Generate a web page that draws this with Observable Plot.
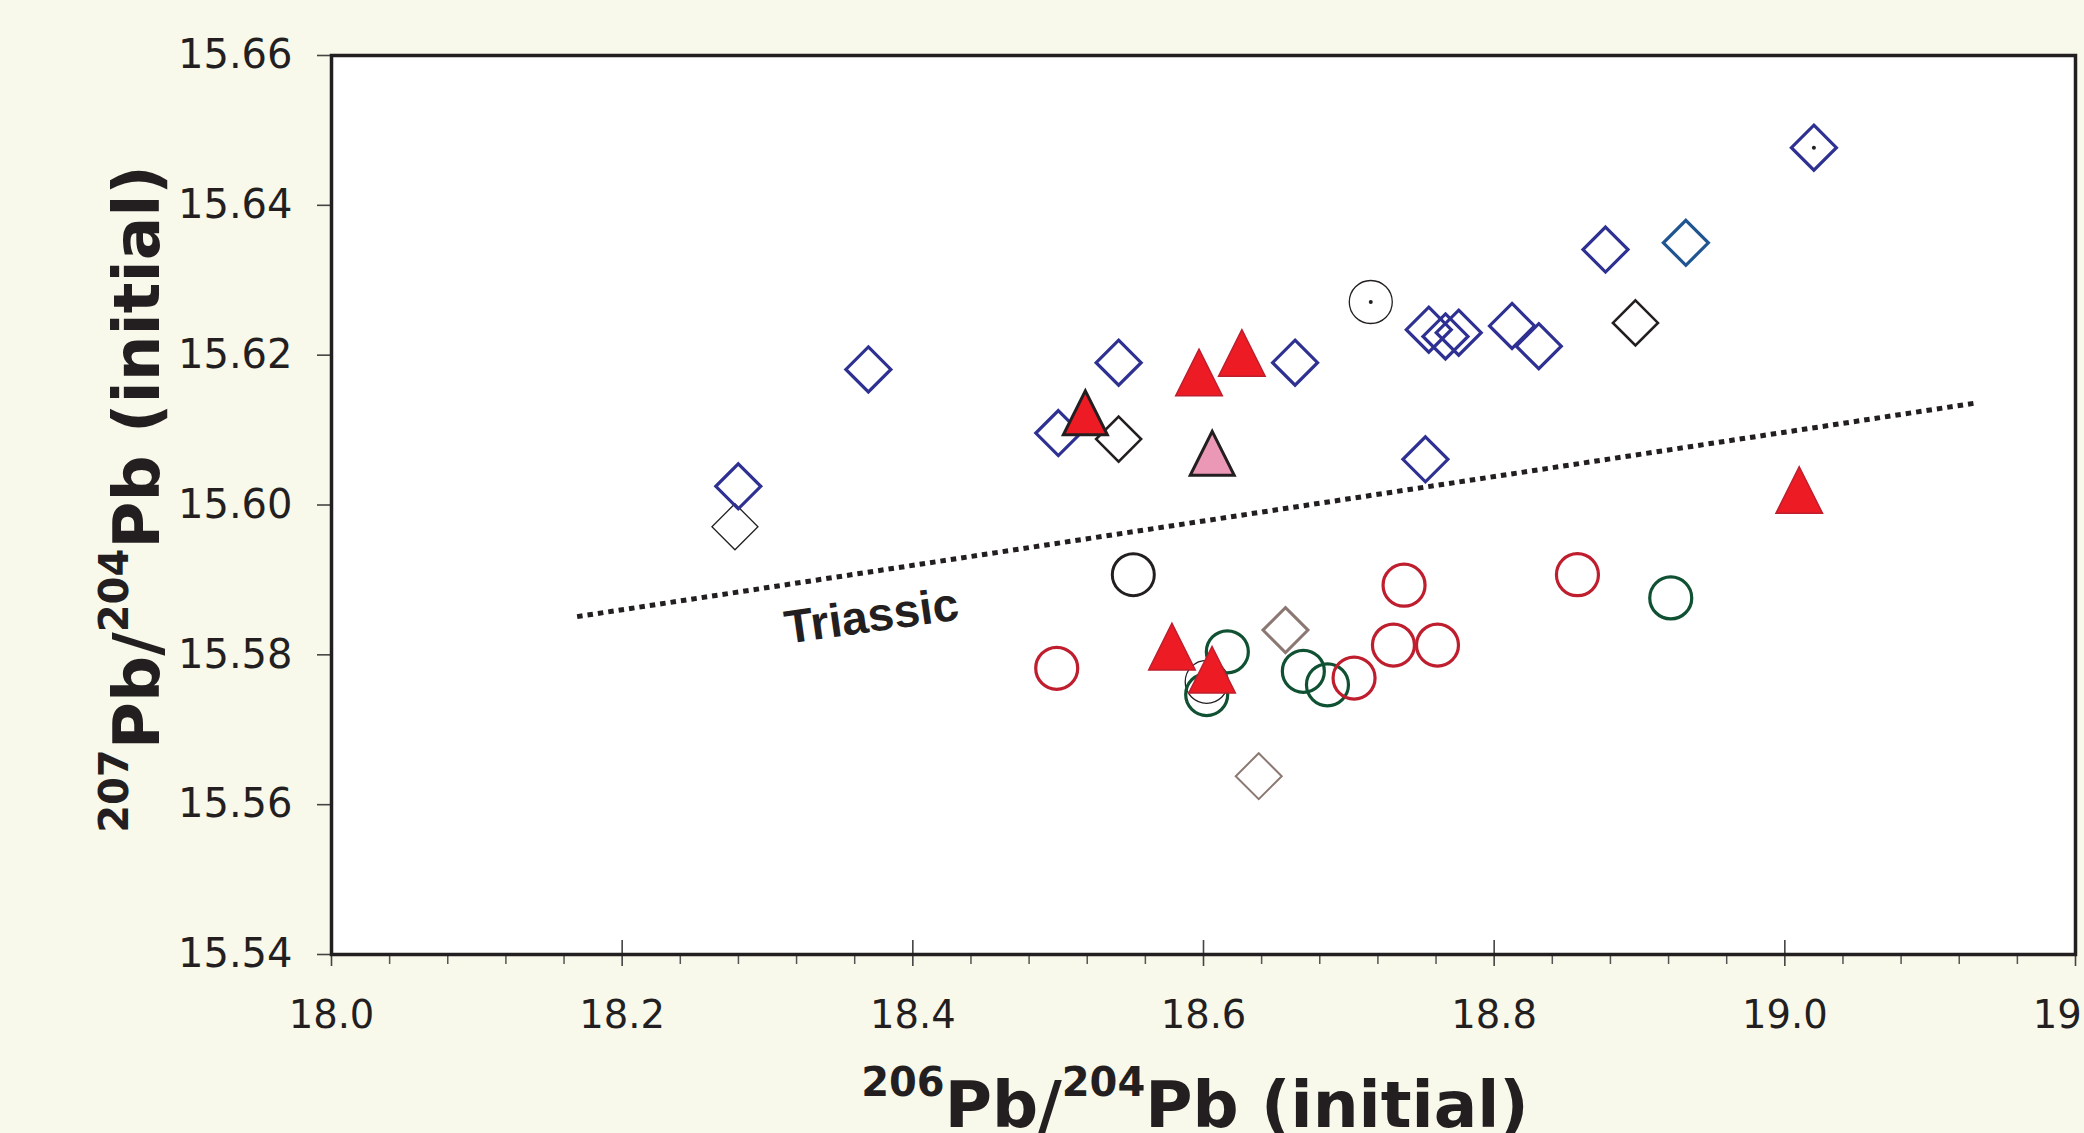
<!DOCTYPE html>
<html>
<head>
<meta charset="utf-8">
<script src="https://cdn.jsdelivr.net/npm/d3@7"></script>
<script src="https://cdn.jsdelivr.net/npm/@observablehq/plot@0.6"></script>
<style>
  html, body { margin: 0; padding: 0; background: #f8f8eb; overflow: hidden; }
  #chart svg { display: block; max-width: none; }
</style>
</head>
<body>
<div id="chart"></div>
<script>
// ---- Data (206Pb/204Pb, 207Pb/204Pb) ----
const blueDiamondX = [18.2799, 18.3694, 18.5001, 18.5416, 18.6630, 18.7527, 18.7550, 18.7665, 18.7756, 18.8123, 18.8307, 18.8766, 19.0200];
const blueDiamondY = [15.6025, 15.6181, 15.6096, 15.6190, 15.6190, 15.6061, 15.6234, 15.6225, 15.6230, 15.6239, 15.6212, 15.6341, 15.6477];
const steelDiamondX = [18.9319];
const steelDiamondY = [15.6350];
const blackDiamondX = [18.5416, 18.8972];
const blackDiamondY = [15.6088, 15.6243];
const thinBlackDiamondX = [18.2776];
const thinBlackDiamondY = [15.5971];
const grayDiamondX = [18.6564];
const grayDiamondY = [15.5833];
const thinGrayDiamondX = [18.6380];
const thinGrayDiamondY = [15.5638];
const redTriangleX = [18.5969, 18.6264, 18.5783, 18.6059, 19.0099];
const redTriangleY = [15.6177, 15.6203, 15.5811, 15.5780, 15.6020];
const outlinedRedTriangleX = [18.5187];
const outlinedRedTriangleY = [15.6123];
const pinkTriangleX = [18.6060];
const pinkTriangleY = [15.6069];
const blackCircleX = [18.5517];
const blackCircleY = [15.5907];
const thinBlackCircleX = [18.7151, 18.6022];
const thinBlackCircleY = [15.6271, 15.5764];
const redCircleX = [18.4990, 18.7380, 18.8573, 18.7307, 18.7610, 18.7036];
const redCircleY = [15.5782, 15.5893, 15.5907, 15.5813, 15.5813, 15.5769];
const greenCircleX = [18.6687, 18.6853, 18.6164, 18.6022, 18.9215];
const greenCircleY = [15.5778, 15.5760, 15.5804, 15.5747, 15.5876];
const centreDotX = [18.7151, 19.0200];
const centreDotY = [15.6271, 15.6477];

// Triassic reference line
const triassicX = [18.169, 19.131];
const triassicY = [15.5851, 15.6136];
const triassicLabel = ["Triassic"];
const triassicLabelX = [18.3716];
const triassicLabelY = [15.5851];

// Axes
const xDomain = [18.0, 19.2];
const yDomain = [15.54, 15.66];
const xMajorTicks = [18.0, 18.2, 18.4, 18.6, 18.8, 19.0, 19.2];
const xMinorTicks = d3.range(0, 31).map(i => +(18 + i * 0.04).toFixed(2)).filter(v => !xMajorTicks.some(m => Math.abs(m - v) < 1e-9));
const yTicks = [15.54, 15.56, 15.58, 15.60, 15.62, 15.64, 15.66];
const xTitleParts = ["206", "Pb/", "204", "Pb (initial)"];
const yTitleParts = ["207", "Pb/", "204", "Pb (initial)"];

// ---- Layout ----
const W = 2084, H = 1133;
const mL = 331, mR = 9, mT = 55, mB = 179;
const innerH = H - mT - mB;
const ink = "#231f20";

const rows = (xs, ys) => xs.map((x, i) => ({x, y: ys[i]}));

const sqDiamond = {draw(ctx, size) { const r = Math.sqrt(size / Math.PI); ctx.moveTo(0, -r); ctx.lineTo(r, 0); ctx.lineTo(0, r); ctx.lineTo(-r, 0); ctx.closePath(); }};
const sqTriangle = {draw(ctx, size) { const r = Math.sqrt(size / Math.PI); ctx.moveTo(0, -r); ctx.lineTo(r, r); ctx.lineTo(-r, r); ctx.closePath(); }};

const chart = Plot.plot({
  width: W, height: H,
  marginLeft: mL, marginRight: mR, marginTop: mT, marginBottom: mB,
  style: {background: "#f8f8eb", fontFamily: "DejaVu Sans", color: ink},
  x: {domain: xDomain, label: null},
  y: {domain: yDomain, label: null},
  marks: [
    Plot.frame({fill: "white", stroke: null}),
    // ticks
    Plot.tickX(xMajorTicks, {x: d => d, insetTop: innerH - 14, insetBottom: -12, stroke: "#444", strokeWidth: 1.6}),
    Plot.tickX(xMinorTicks, {x: d => d, insetTop: innerH, insetBottom: -10, stroke: "#555", strokeWidth: 1.5}),
    Plot.axisX({ticks: xMajorTicks, tickSize: 0, tickPadding: 46, tickFormat: d => d.toFixed(1), fontSize: 38.5, fill: ink, label: null}),
    Plot.axisY({ticks: yTicks, tickSize: 14, tickPadding: 25, tickFormat: d => d.toFixed(2), fontSize: 40, fill: ink, stroke: "#444", strokeWidth: 1.6, label: null}),
    // Triassic line
    Plot.line(rows(triassicX, triassicY), {x: "x", y: "y", stroke: ink, strokeWidth: 5, strokeDasharray: "5.5 5", strokeLinecap: "butt"}),
    Plot.text(triassicLabel, {x: () => triassicLabelX[0], y: () => triassicLabelY[0], text: d => d, rotate: -8, fontSize: 47, fontWeight: "bold", fontFamily: "Liberation Sans", fill: ink}),
    // diamonds
    Plot.dot(rows(thinBlackDiamondX, thinBlackDiamondY), {x: "x", y: "y", symbol: sqDiamond, r: 23, fill: "none", stroke: ink, strokeWidth: 1.3}),
    Plot.dot(rows(thinGrayDiamondX, thinGrayDiamondY), {x: "x", y: "y", symbol: sqDiamond, r: 23, fill: "none", stroke: "#8c7873", strokeWidth: 2}),
    Plot.dot(rows(grayDiamondX, grayDiamondY), {x: "x", y: "y", symbol: sqDiamond, r: 22.5, fill: "none", stroke: "#8c7873", strokeWidth: 3}),
    Plot.dot(rows(blackDiamondX, blackDiamondY), {x: "x", y: "y", symbol: sqDiamond, r: 22.5, fill: "none", stroke: ink, strokeWidth: 2.6}),
    Plot.dot(rows(blueDiamondX, blueDiamondY), {x: "x", y: "y", symbol: sqDiamond, r: 22.5, fill: "none", stroke: "#2e3192", strokeWidth: 3.2}),
    Plot.dot(rows(steelDiamondX, steelDiamondY), {x: "x", y: "y", symbol: sqDiamond, r: 22.5, fill: "none", stroke: "#1f5591", strokeWidth: 3.2}),
    // circles
    Plot.dot(rows(thinBlackCircleX, thinBlackCircleY), {x: "x", y: "y", r: 21.5, fill: "none", stroke: ink, strokeWidth: 1.3}),
    Plot.dot(rows(greenCircleX, greenCircleY), {x: "x", y: "y", r: 21, fill: "none", stroke: "#0f5132", strokeWidth: 3.2}),
    Plot.dot(rows(redCircleX, redCircleY), {x: "x", y: "y", r: 21, fill: "none", stroke: "#be1e2d", strokeWidth: 3.2}),
    Plot.dot(rows(blackCircleX, blackCircleY), {x: "x", y: "y", r: 21, fill: "none", stroke: ink, strokeWidth: 3}),
    Plot.dot(rows(centreDotX, centreDotY), {x: "x", y: "y", r: 2, fill: ink, stroke: null}),
    // triangles
    Plot.dot(rows(pinkTriangleX, pinkTriangleY), {x: "x", y: "y", symbol: sqTriangle, r: 22, fill: "#eb98b6", stroke: ink, strokeWidth: 3}),
    Plot.dot(rows(redTriangleX, redTriangleY), {x: "x", y: "y", symbol: sqTriangle, r: 23.3, fill: "#ed1c24", stroke: "#be1e2d", strokeWidth: 1.5}),
    Plot.dot(rows(outlinedRedTriangleX, outlinedRedTriangleY), {x: "x", y: "y", symbol: sqTriangle, r: 22, fill: "#ed1c24", stroke: ink, strokeWidth: 3}),
    // frame
    Plot.frame({stroke: ink, strokeWidth: 3.5})
  ]
});

// Axis titles with superscripts
const svg = d3.select(chart);
function addTitle(parts, transform) {
  const t = svg.append("text")
    .attr("transform", transform)
    .attr("text-anchor", "middle")
    .attr("font-family", "DejaVu Sans")
    .attr("font-weight", "bold")
    .attr("fill", ink);
  parts.forEach((p, i) => {
    const sup = i % 2 === 0;
    t.append("tspan")
      .attr("font-size", sup ? 40 : 64.5)
      .attr("dy", sup ? -31 : 31)
      .text(p);
  });
}
addTitle(xTitleParts, "translate(1195,1127)");
addTitle(yTitleParts, "translate(159,499) rotate(-90)");

document.getElementById("chart").append(chart);
</script>
</body>
</html>
